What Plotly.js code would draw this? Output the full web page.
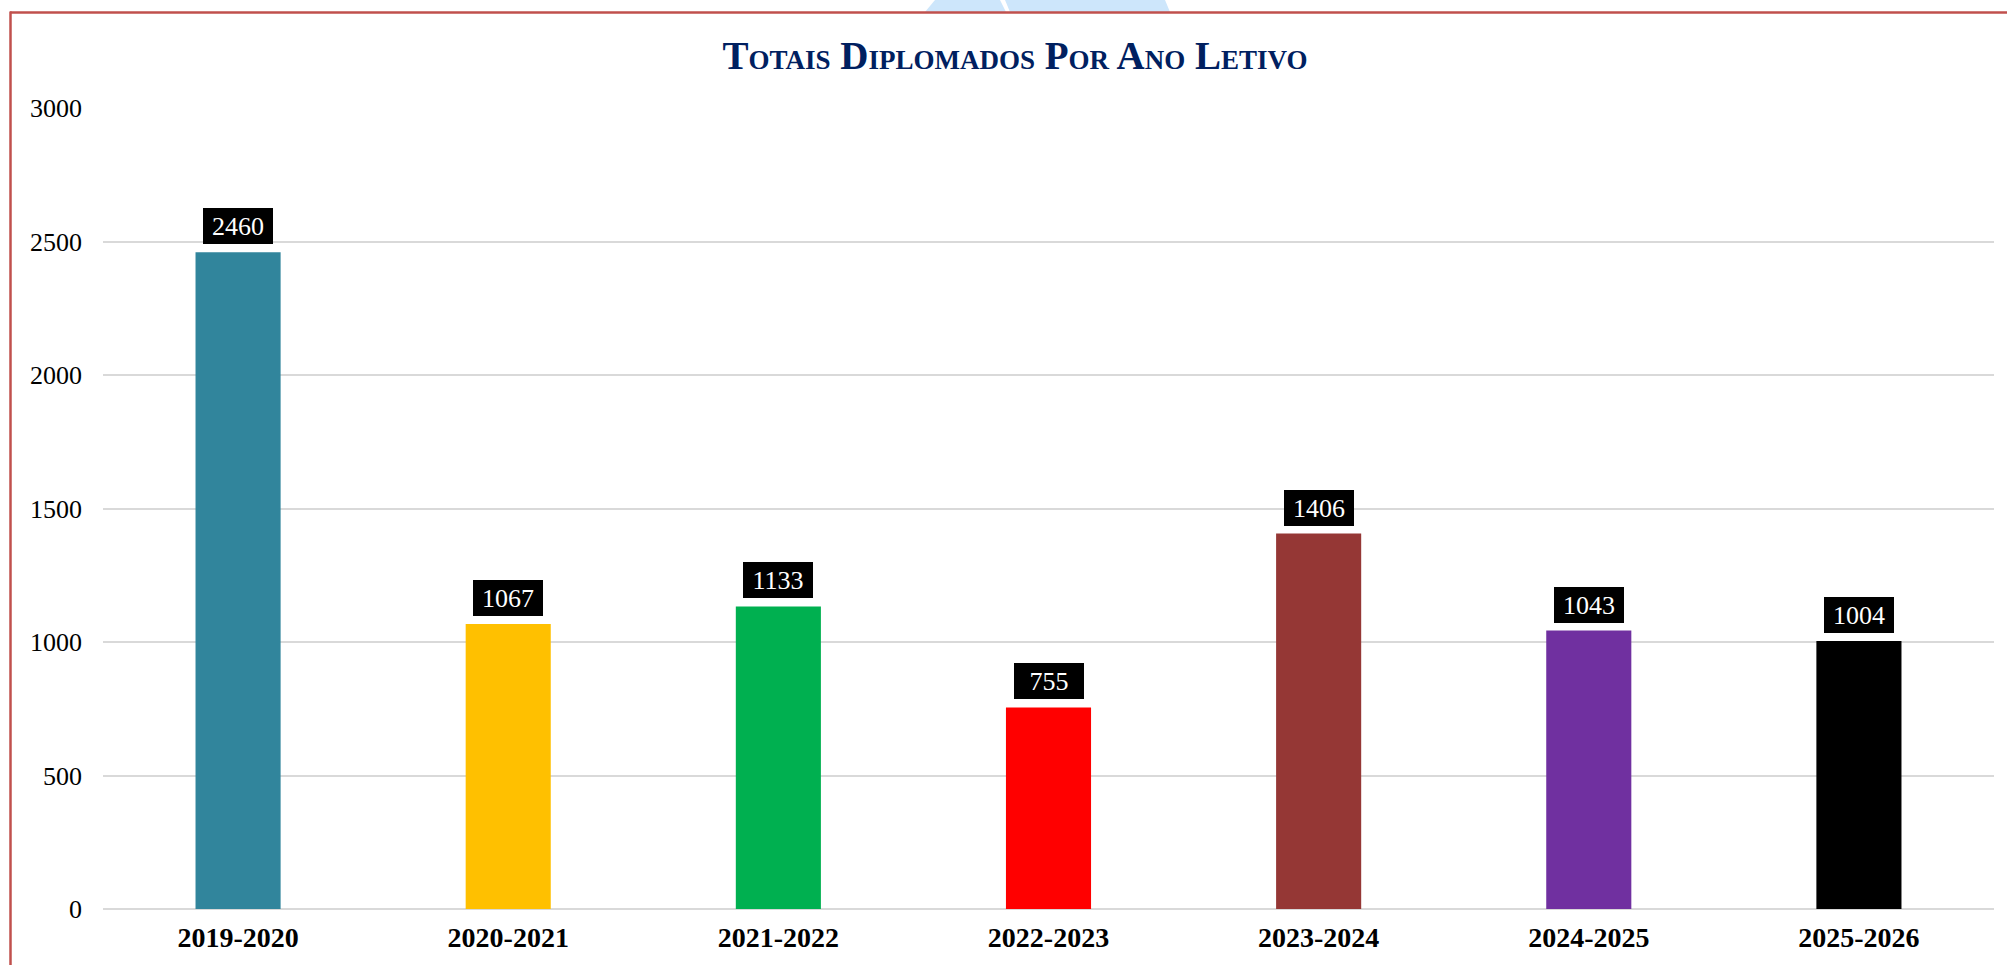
<!DOCTYPE html>
<html>
<head>
<meta charset="utf-8">
<script src="https://cdn.plot.ly/plotly-3.0.1.min.js"></script>
<style>
  html, body { margin: 0; padding: 0; background: #ffffff; }
  #chart { width: 2007px; height: 965px; }
</style>
</head>
<body>
<div id="chart"></div>
<script>
const categories = ["2019-2020", "2020-2021", "2021-2022", "2022-2023", "2023-2024", "2024-2025", "2025-2026"];
const values = [2460, 1067, 1133, 755, 1406, 1043, 1004];
const barColors = ["#31859c", "#ffc000", "#00b050", "#ff0000", "#953735", "#7030a0", "#000000"];
const yTicks = [0, 500, 1000, 1500, 2000, 2500, 3000];
const titleText = "Totais Diplomados Por Ano Letivo";

const W = 2007, H = 965;
const L = 103, R = 13, T = 108, B = 56;
const pw = W - L - R, ph = H - T - B;
const px = p => (p - L) / pw;
const py = p => (H - B - p) / ph;

const serif = "Liberation Serif, Times New Roman, serif";

const trace = {
  type: "bar",
  x: categories,
  y: values,
  marker: { color: barColors, line: { width: 0 } },
  hoverinfo: "x+y"
};

const annotations = categories.map((c, i) => ({
  x: c, y: values[i], xref: "x", yref: "y",
  text: String(values[i]),
  showarrow: false,
  yanchor: "bottom", xanchor: "center",
  yshift: 8,
  bgcolor: "#000000",
  borderpad: 2,
  borderwidth: 0,
  width: 66, height: 32,
  font: { family: serif, size: 26, color: "#ffffff" }
}));

const shapes = [
  // light blue decoration at the top
  { type: "path", xref: "paper", yref: "paper", layer: "below",
    path: `M ${px(925)} ${py(12)} L ${px(935)} ${py(0)} L ${px(1000)} ${py(0)} L ${px(1006)} ${py(12)} Z`,
    fillcolor: "#cde6fb", line: { width: 0 } },
  { type: "path", xref: "paper", yref: "paper", layer: "below",
    path: `M ${px(1010)} ${py(12)} L ${px(1005)} ${py(0)} L ${px(1165)} ${py(0)} L ${px(1170)} ${py(12)} Z`,
    fillcolor: "#cde6fb", line: { width: 0 } },
  // red frame
  { type: "line", xref: "paper", yref: "paper",
    x0: px(10), x1: px(2010), y0: py(12.5), y1: py(12.5),
    line: { color: "#c0504d", width: 2.5 } },
  { type: "line", xref: "paper", yref: "paper",
    x0: px(10.5), x1: px(10.5), y0: py(11.5), y1: py(970),
    line: { color: "#c0504d", width: 2.5 } }
];

const layout = {
  width: W, height: H,
  margin: { l: L, r: R, t: T, b: B, pad: 0 },
  paper_bgcolor: "#ffffff",
  plot_bgcolor: "#ffffff",
  showlegend: false,
  bargap: 0.685,
  title: {
    text: titleText,
    xref: "container", yref: "container",
    x: 1015 / W, xanchor: "center",
    y: 1 - 55 / H, yanchor: "middle",
    font: { family: serif, size: 39, color: "#002060", weight: "bold", variant: "small-caps" }
  },
  xaxis: {
    type: "category",
    showgrid: false,
    showline: false,
    zeroline: false,
    ticks: "",
    tickfont: { family: serif, size: 28, color: "#000000", weight: "bold" },
    ticklabelstandoff: 9
  },
  yaxis: {
    range: [0, 3000],
    tickvals: yTicks,
    ticktext: yTicks.map(String),
    showgrid: true,
    gridcolor: "#d9d9d9",
    gridwidth: 2,
    zeroline: true,
    zerolinecolor: "#d9d9d9",
    zerolinewidth: 2,
    showline: false,
    ticks: "",
    tickfont: { family: serif, size: 26, color: "#000000" },
    ticklabelstandoff: 20
  },
  annotations: annotations,
  shapes: shapes
};

Plotly.newPlot("chart", [trace], layout, { displayModeBar: false, staticPlot: true });
</script>
</body>
</html>
